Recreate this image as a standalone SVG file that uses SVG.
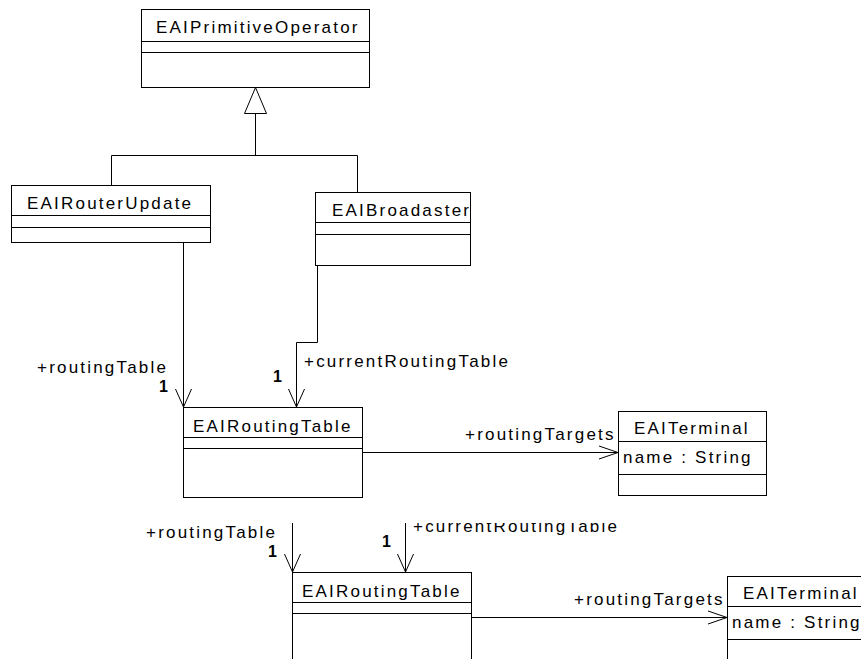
<svg xmlns="http://www.w3.org/2000/svg" width="861" height="659" viewBox="0 0 861 659">
<style>
.box{fill:#fff;stroke:#000;stroke-width:1}
.sep{stroke:#000;stroke-width:1}
.ln{fill:none;stroke:#000;stroke-width:1}
.t{font-family:"Liberation Sans",Arial,sans-serif;font-size:17px;letter-spacing:2.2px;fill:#000}
.m{font-family:"Liberation Sans",Arial,sans-serif;font-size:16px;font-weight:bold;fill:#000}
</style>
<defs>
<clipPath id="lowClip" clipPathUnits="userSpaceOnUse"><rect x="0" y="523" width="861" height="136"/></clipPath>
</defs>
<rect width="861" height="659" fill="#fff"/>

<g id="connectors">
<polyline class="ln" points="111.5,185 111.5,155.5 357.5,155.5 357.5,192"/>
<line class="ln" x1="255.5" y1="155.5" x2="255.5" y2="113"/>
<polygon points="255.5,87.5 244.5,113.5 266.5,113.5" fill="#fff" stroke="#000"/>
<line class="ln" x1="183.5" y1="242" x2="183.5" y2="407"/>
<polyline class="ln" points="175.5,389 183.5,407 191.5,389"/>
<polyline class="ln" points="317.5,265 317.5,342.5 296.5,342.5 296.5,407"/>
<polyline class="ln" points="288.5,389 296.5,407 304.5,389"/>
<line class="ln" x1="362" y1="452.5" x2="618" y2="452.5"/>
<polyline class="ln" points="599,446 618,452.5 599,459"/>
<text class="t" x="37" y="373">+routingTable</text>
<text class="m" x="159" y="392">1</text>
<text class="t" x="304" y="367">+currentRoutingTable</text>
<text class="m" x="273" y="382">1</text>
<text class="t" x="465" y="440">+routingTargets</text>
</g>

<g id="EAIPrimitiveOperator">
<rect class="box" x="141.5" y="9.5" width="228" height="78"/>
<line class="sep" x1="141.5" y1="41.5" x2="369.5" y2="41.5"/>
<line class="sep" x1="141.5" y1="52.5" x2="369.5" y2="52.5"/>
<text class="t" x="156" y="33">EAIPrimitiveOperator</text>
</g>

<g id="EAIRouterUpdate">
<rect class="box" x="11.5" y="185.5" width="199" height="57"/>
<line class="sep" x1="11.5" y1="215.5" x2="210.5" y2="215.5"/>
<line class="sep" x1="11.5" y1="227.5" x2="210.5" y2="227.5"/>
<text class="t" x="27" y="209">EAIRouterUpdate</text>
</g>

<g id="EAIBroadaster">
<rect class="box" x="315.5" y="192.5" width="155" height="73"/>
<line class="sep" x1="315.5" y1="222.5" x2="470.5" y2="222.5"/>
<line class="sep" x1="315.5" y1="234.5" x2="470.5" y2="234.5"/>
<text class="t" x="332" y="216" letter-spacing="1.4">EAIBroadaster</text>
</g>

<g id="EAIRoutingTable">
<rect class="box" x="183.5" y="407.5" width="179" height="90"/>
<line class="sep" x1="183.5" y1="437.5" x2="362.5" y2="437.5"/>
<line class="sep" x1="183.5" y1="448.5" x2="362.5" y2="448.5"/>
<text class="t" x="193" y="432">EAIRoutingTable</text>
</g>

<g id="EAITerminal">
<rect class="box" x="618.5" y="411.5" width="148" height="84"/>
<line class="sep" x1="618.5" y1="441.5" x2="766.5" y2="441.5"/>
<line class="sep" x1="618.5" y1="474.5" x2="766.5" y2="474.5"/>
<text class="t" x="634" y="434">EAITerminal</text>
<text class="t" x="623" y="463">name : String</text>
</g>

<g id="lower-copy" clip-path="url(#lowClip)">
<g transform="translate(109,165)">
<g id="connectors-copy">
<line class="ln" x1="183.5" y1="242" x2="183.5" y2="407"/>
<polyline class="ln" points="175.5,389 183.5,407 191.5,389"/>
<polyline class="ln" points="317.5,265 317.5,342.5 296.5,342.5 296.5,407"/>
<polyline class="ln" points="288.5,389 296.5,407 304.5,389"/>
<line class="ln" x1="362" y1="452.5" x2="618" y2="452.5"/>
<polyline class="ln" points="599,446 618,452.5 599,459"/>
<text class="t" x="37" y="373">+routingTable</text>
<text class="m" x="159" y="392">1</text>
<text class="t" x="304" y="367">+currentRoutingTable</text>
<text class="m" x="273" y="382">1</text>
<text class="t" x="465" y="440">+routingTargets</text>
</g>
<g id="EAIRoutingTable-copy">
<rect class="box" x="183.5" y="407.5" width="179" height="90"/>
<line class="sep" x1="183.5" y1="437.5" x2="362.5" y2="437.5"/>
<line class="sep" x1="183.5" y1="448.5" x2="362.5" y2="448.5"/>
<text class="t" x="193" y="432">EAIRoutingTable</text>
</g>
<g id="EAITerminal-copy">
<rect class="box" x="618.5" y="411.5" width="148" height="84"/>
<line class="sep" x1="618.5" y1="441.5" x2="766.5" y2="441.5"/>
<line class="sep" x1="618.5" y1="474.5" x2="766.5" y2="474.5"/>
<text class="t" x="634" y="434">EAITerminal</text>
<text class="t" x="623" y="463">name : String</text>
</g>
</g>
</g>
</svg>
